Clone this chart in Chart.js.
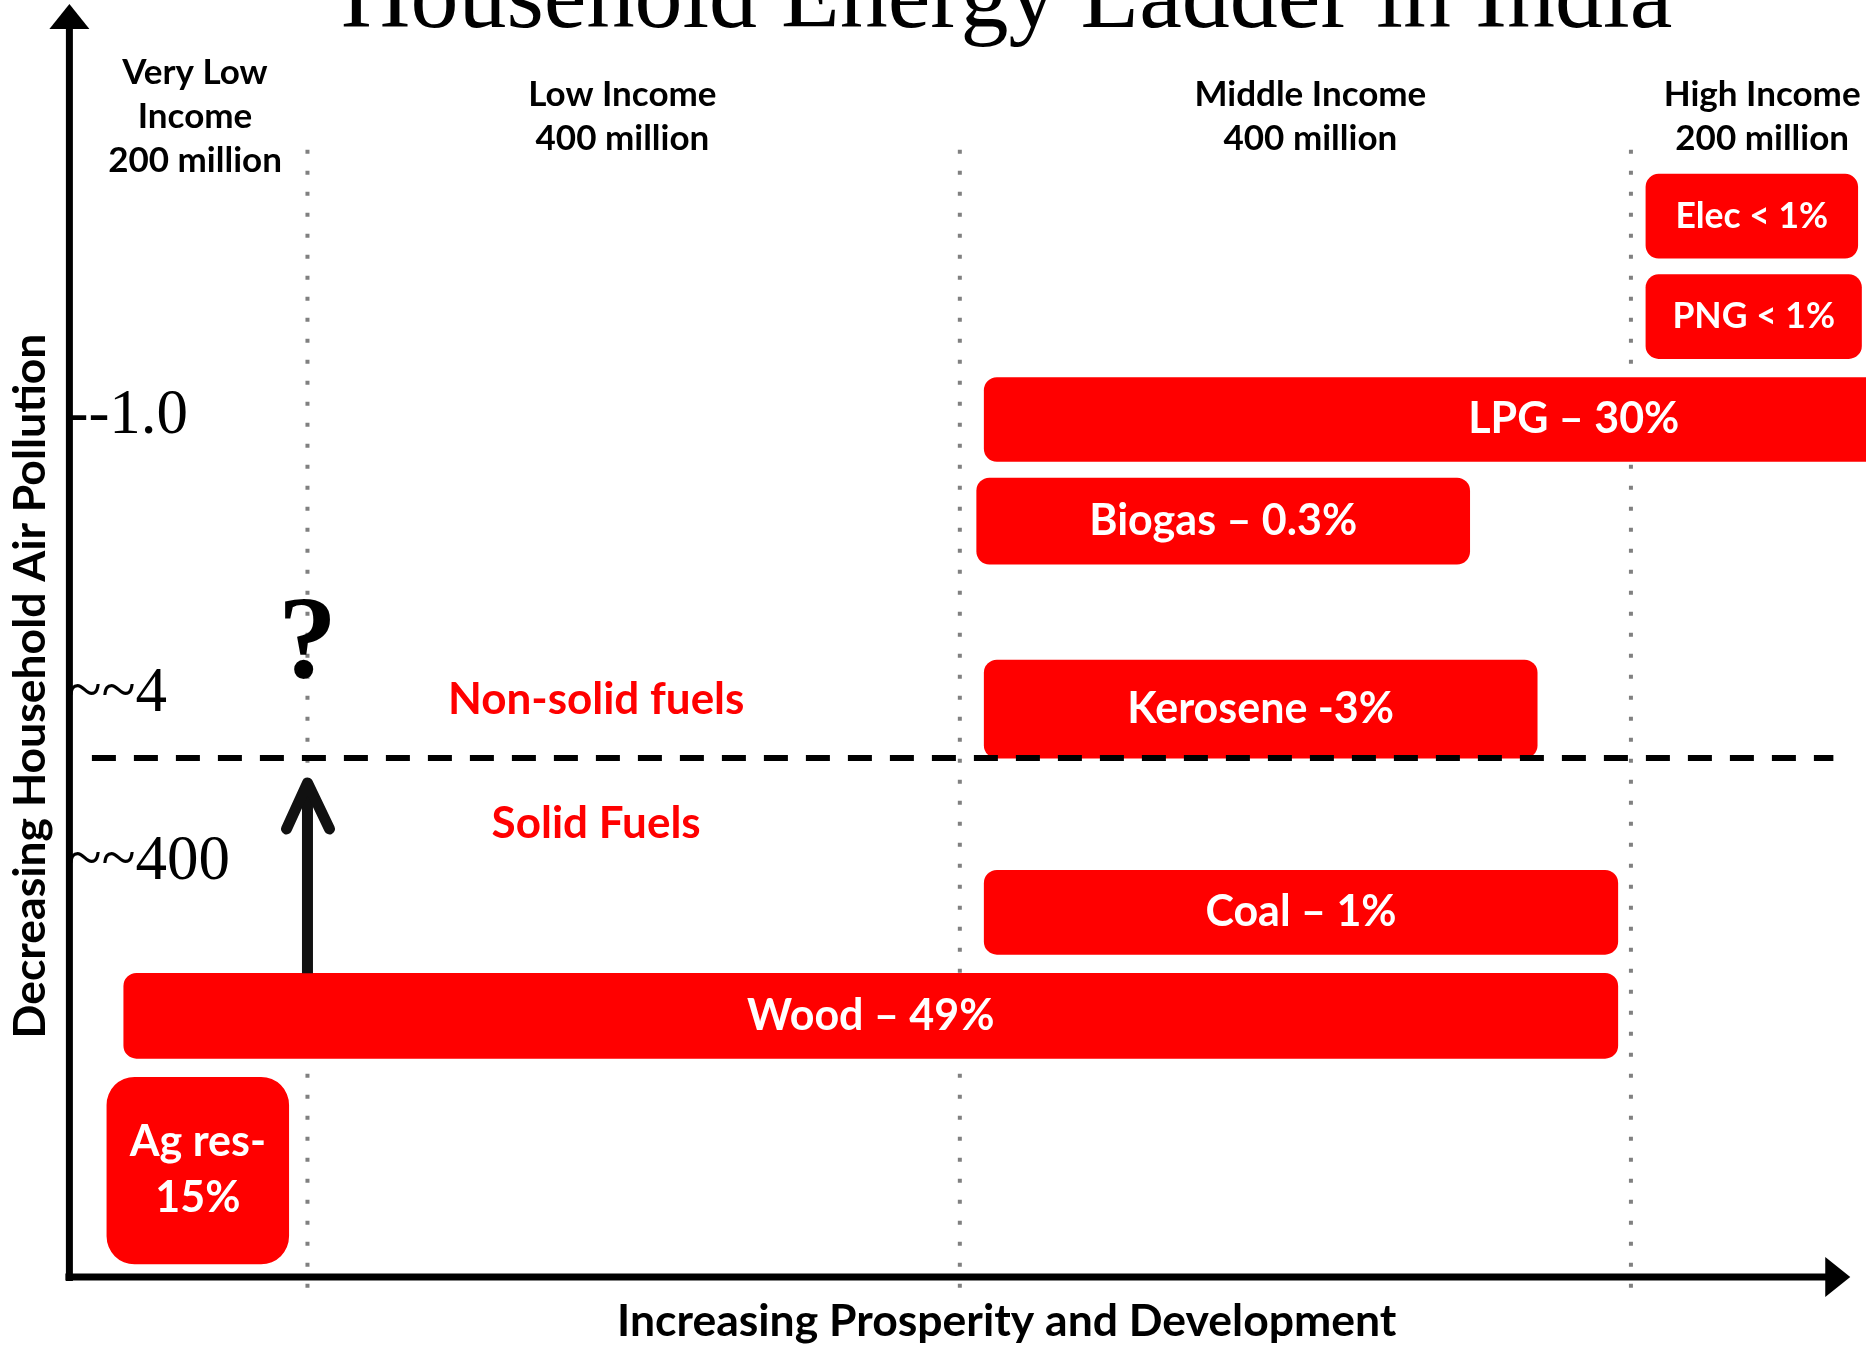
<!DOCTYPE html>
<html>
<head>
<meta charset="utf-8">
<title>Household Energy Ladder in India</title>
<script src="https://cdn.jsdelivr.net/npm/chart.js@4.4.1/dist/chart.umd.min.js"></script>
<style>
  html, body { margin: 0; padding: 0; background: #fff; }
  canvas { display: block; }
</style>
</head>
<body>
<canvas id="ladderChart" width="1866" height="1346"></canvas>
<script>
// ===== Household energy ladder (Chart.js) =====
// x: prosperity 0-100 (only up to ~95.5 is on the slide), y: fuel "level" 0-100

// income groups along the prosperity axis
const incomeGroups = [
  ['Very Low', 'Income', '200 million'],
  ['Low Income', '400 million'],
  ['Middle Income', '400 million'],
  ['High Income', '200 million'],
];
const incomeCenters = [6.7, 29.5, 66.2, 90.3];
const incomeBounds = [12.7, 47.5, 83.3];

// fuels: x range and y range of each box
const fuelLabels = ['Elec < 1%', 'PNG < 1%', 'LPG – 30%', 'Biogas – 0.3%', 'Kerosene -3%', 'Coal – 1%', 'Wood – 49%', 'Ag res-\n15%'];
const fuelFrom = [84.1, 84.1, 48.8, 48.4, 48.8, 48.8, 2.9, 2.0];
const fuelTo   = [95.4, 95.6, 111.7, 74.7, 78.3, 82.6, 82.6, 11.7];
const fuelLow  = [86.2, 77.7, 69.0, 60.3, 43.9, 27.3, 18.5, 1.1];
const fuelHigh = [93.3, 84.8, 76.1, 67.6, 52.2, 34.4, 25.7, 16.9];

// pollution levels on the y axis
const levelTicks = [72.8, 49.3, 35.1];
const levelLabels = ['--1.0', '~~4', '~~400'];

// solid / non-solid divide and the labels around it
const solidLine = 43.9;
const solidLineFrom = 1.2, solidLineTo = 94.1;
const zoneLabels = ['Non-solid fuels', 'Solid Fuels'];
const zoneX = [28.1, 28.1];
const zoneY = [48.8, 38.3];

// the "?" arrow leaving wood
const arrowX = 12.7, arrowFrom = 25.7, arrowTo = 41.8;
const questionY = 53.3;

// axis arrow ends, boundary extents, header row (data units)
const axisTipX = 95.0, axisTipY = 107.7;
const boundTop = 96.8, boundBottom = -0.9;
const incomeLabelY = 98.2;
const titleCenterX = 50;

const RED = '#ff0000';
const SANS = 'Lato';
const SERIF = '"Liberation Serif"';

// one floating bar per fuel
const fuelDatasets = fuelLabels.map((label, i) => ({
  type: 'bar',
  indexAxis: 'y',
  label,
  data: [{ x: [fuelFrom[i], fuelTo[i]], y: (fuelLow[i] + fuelHigh[i]) / 2 }],
  backgroundColor: RED,
  borderWidth: 0,
  borderSkipped: false,
  borderRadius: i === fuelLabels.length - 1 ? 28 : 13,
  grouped: false,
  barThickness: (ctx) => {
    const ys = ctx.chart.scales.y;
    return Math.abs(ys.getPixelForValue(fuelHigh[i]) - ys.getPixelForValue(fuelLow[i]));
  },
  captionSize: i < 2 ? 35.5 : 43,
  clip: false,
  order: 0,
}));

// dotted income boundaries
const boundDatasets = incomeBounds.map((b) => ({
  type: 'line',
  data: [{ x: b, y: boundBottom }, { x: b, y: boundTop }],
  borderColor: '#808080',
  borderWidth: 4,
  borderDash: [4, 17],
  borderCapStyle: 'butt',
  pointRadius: 0,
  clip: false,
  order: 2,
}));

const divideDataset = {
  type: 'line',
  data: [{ x: solidLineFrom, y: solidLine }, { x: solidLineTo, y: solidLine }],
  borderColor: '#000',
  borderWidth: 6,
  borderDash: [24, 18],
  borderCapStyle: 'butt',
  pointRadius: 0,
  clip: false,
  order: -1,
};

const arrowDataset = {
  type: 'line',
  data: [{ x: arrowX, y: arrowFrom }, { x: arrowX, y: arrowTo }],
  borderColor: '#111',
  borderWidth: 11,
  borderCapStyle: 'butt',
  pointRadius: 0,
  clip: false,
  order: -1,
};

const arrowIndex = fuelDatasets.length + boundDatasets.length + 1;

// axes with arrow heads, titles, captions and free labels
const ladderDecor = {
  id: 'ladderDecor',
  afterDatasetsDraw(chart) {
    const { ctx, chartArea: area, scales: { x, y } } = chart;
    ctx.save();

    const x0 = area.left, y0 = area.bottom;
    const xTip = x.getPixelForValue(axisTipX);
    const yTip = y.getPixelForValue(axisTipY);
    ctx.fillStyle = '#000';
    ctx.strokeStyle = '#000';
    ctx.lineWidth = 7;
    ctx.beginPath();
    ctx.moveTo(x0, y0 + 4);
    ctx.lineTo(x0, yTip + 22);
    ctx.stroke();
    ctx.beginPath();
    ctx.moveTo(x0 - 4, y0);
    ctx.lineTo(xTip - 22, y0);
    ctx.stroke();
    ctx.beginPath();
    ctx.moveTo(x0, yTip);
    ctx.lineTo(x0 - 20, yTip + 25);
    ctx.lineTo(x0 + 20, yTip + 25);
    ctx.closePath();
    ctx.fill();
    ctx.beginPath();
    ctx.moveTo(xTip, y0);
    ctx.lineTo(xTip - 25, y0 - 20);
    ctx.lineTo(xTip - 25, y0 + 20);
    ctx.closePath();
    ctx.fill();

    // chevron on the up arrow
    const tip = chart.getDatasetMeta(arrowIndex).data[1];
    ctx.strokeStyle = '#111';
    ctx.lineWidth = 11;
    ctx.lineCap = 'round';
    ctx.lineJoin = 'round';
    ctx.beginPath();
    ctx.moveTo(tip.x - 21, tip.y + 46);
    ctx.lineTo(tip.x, tip.y);
    ctx.lineTo(tip.x + 22, tip.y + 46);
    ctx.stroke();

    // titles sit over the middle of the full 0-100 prosperity range
    const midX = x.getPixelForValue(titleCenterX);
    ctx.textAlign = 'center';
    ctx.textBaseline = 'alphabetic';
    ctx.font = `96px ${SERIF}`;
    ctx.fillStyle = '#000';
    ctx.fillText('Household Energy Ladder in India', midX, 27);

    ctx.textBaseline = 'middle';
    ctx.font = `bold 44.5px ${SANS}`;
    ctx.fillText('Increasing Prosperity and Development', midX, y0 + 45);

    // fuel captions in the boxes
    fuelDatasets.forEach((ds, i) => {
      const bar = chart.getDatasetMeta(i).data[0];
      const cx = (bar.x + bar.base) / 2;
      const lines = ds.label.split('\n');
      ctx.font = `bold ${ds.captionSize}px ${SANS}`;
      ctx.fillStyle = '#fff';
      lines.forEach((line, k) => {
        ctx.fillText(line, cx, bar.y + (k - (lines.length - 1) / 2) * 56);
      });
    });

    // income group headers
    ctx.font = `bold 35px ${SANS}`;
    ctx.fillStyle = '#000';
    incomeGroups.forEach((lines, i) => {
      const cx = x.getPixelForValue(incomeCenters[i]);
      const cy = y.getPixelForValue(incomeLabelY);
      lines.forEach((line, k) => {
        ctx.fillText(line, cx, cy + (k - (lines.length - 1) / 2) * 44);
      });
    });

    // solid / non-solid
    ctx.font = `bold 44px ${SANS}`;
    ctx.fillStyle = RED;
    zoneLabels.forEach((t, i) => {
      ctx.fillText(t, x.getPixelForValue(zoneX[i]), y.getPixelForValue(zoneY[i]));
    });

    ctx.font = `bold 118px ${SERIF}`;
    ctx.fillStyle = '#000';
    ctx.fillText('?', x.getPixelForValue(arrowX), y.getPixelForValue(questionY));

    ctx.restore();
  },
};

new Chart(document.getElementById('ladderChart'), {
  type: 'bar',
  data: {
    datasets: [...fuelDatasets, ...boundDatasets, divideDataset, arrowDataset],
  },
  options: {
    responsive: false,
    devicePixelRatio: 1,
    animation: false,
    events: [],
    layout: { padding: { left: 0, right: 6, top: 95, bottom: 69 } },
    scales: {
      x: {
        type: 'linear',
        min: 0,
        max: 95.52,
        offset: false,
        grid: { display: false, drawTicks: false },
        border: { display: false },
        ticks: { display: false },
      },
      y: {
        type: 'linear',
        min: 0,
        max: 100,
        offset: false,
        afterBuildTicks: (scale) => {
          scale.ticks = levelTicks.map((v) => ({ value: v }));
        },
        grid: { display: false, drawTicks: false },
        border: { display: false },
        ticks: {
          mirror: true,
          padding: -2,
          color: '#000',
          autoSkip: false,
          font: { family: 'Liberation Serif', size: 63, weight: 'normal' },
          callback: (value, index) => levelLabels[index],
        },
        title: {
          display: true,
          text: 'Decreasing Household Air Pollution',
          color: '#000',
          font: { family: SANS, weight: 'bold', size: 44.5, lineHeight: 1.2 },
          padding: { top: 4, bottom: 16 },
        },
      },
    },
    plugins: {
      legend: { display: false },
      tooltip: { enabled: false },
      title: { display: false },
    },
  },
  plugins: [ladderDecor],
});
</script>
</body>
</html>
